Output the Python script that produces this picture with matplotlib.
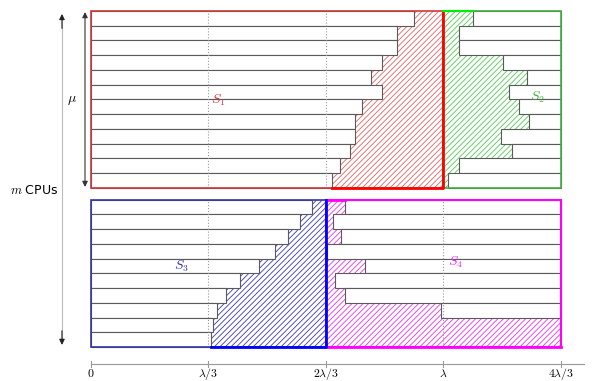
import numpy as np
import matplotlib.pyplot as plt
from matplotlib.patches import Polygon, Rectangle

plt.rcParams['mathtext.fontset'] = 'cm'
plt.rcParams['hatch.linewidth'] = 0.6

# x in units of lambda/3, one row = one CPU
top_red_ends = [2.75, 2.60, 2.60, 2.48, 2.38, 2.48, 2.31, 2.25, 2.25, 2.20, 2.12, 2.05]
top_green_starts = [3.25, 3.13, 3.13, 3.51, 3.71, 3.56, 3.64, 3.73, 3.49, 3.58, 3.13, 3.04]
bottom_blue_ends = [1.88, 1.78, 1.68, 1.57, 1.43, 1.27, 1.15, 1.07, 1.04, 1.02]
bottom_magenta_starts = [2.16, 2.06, 2.13, 2.01, 2.33, 2.08, 2.16, 2.98, 4.0, 4.0]
tick_pos = [0, 1, 2, 3, 4]
tick_labels = ['$0$', r'$\lambda/3$', r'$2\lambda/3$', r'$\lambda$', r'$4\lambda/3$']

top_y0 = 10.78
bot_y0 = 0.0

fig = plt.figure(figsize=(5.92, 3.81), dpi=100)
ax = fig.add_axes([0, 0, 1, 1])
ax.set_xlim(-91 / 117.5, 501 / 117.5)
ax.set_ylim(-34 / 14.75, 347 / 14.75)
ax.axis('off')

bar_ec = '#5a5a5a'


def stair_left(ends, y0, xr):
    # hatch region right of the bars, up to xr
    n = len(ends)
    top = y0 + n
    pts = [(xr, top), (xr, y0)]
    for i in range(n - 1, -1, -1):
        yb = top - (i + 1)
        pts.append((ends[i], yb))
        pts.append((ends[i], yb + 1))
    return pts


def stair_right(starts, y0, xl):
    # hatch region left of the bars, from xl
    n = len(starts)
    top = y0 + n
    pts = [(xl, top), (xl, y0)]
    for i in range(n - 1, -1, -1):
        yb = top - (i + 1)
        pts.append((starts[i], yb))
        pts.append((starts[i], yb + 1))
    return pts


def hatch_poly(pts, color):
    ax.add_patch(Polygon(pts, closed=True, facecolor='none', edgecolor=color,
                         linewidth=0, hatch='//////', zorder=1))


hatch_poly(stair_left(top_red_ends, top_y0, 3), '#e86060')
hatch_poly(stair_right(top_green_starts, top_y0, 3), '#50cc50')
hatch_poly(stair_left(bottom_blue_ends, bot_y0, 2), '#3838c0')
hatch_poly(stair_right(bottom_magenta_starts, bot_y0, 2), '#ee30ee')

# white bars
n = len(top_red_ends)
for i in range(n):
    yb = top_y0 + n - (i + 1)
    ax.add_patch(Rectangle((0, yb), top_red_ends[i], 1, facecolor='white',
                           edgecolor=bar_ec, linewidth=0.8, zorder=2))
    ax.add_patch(Rectangle((top_green_starts[i], yb), 4 - top_green_starts[i], 1,
                           facecolor='white', edgecolor=bar_ec, linewidth=0.8, zorder=2))
n = len(bottom_blue_ends)
for i in range(n):
    yb = bot_y0 + n - (i + 1)
    ax.add_patch(Rectangle((0, yb), bottom_blue_ends[i], 1, facecolor='white',
                           edgecolor=bar_ec, linewidth=0.8, zorder=2))
    if bottom_magenta_starts[i] < 4:
        ax.add_patch(Rectangle((bottom_magenta_starts[i], yb), 4 - bottom_magenta_starts[i], 1,
                               facecolor='white', edgecolor=bar_ec, linewidth=0.8, zorder=2))

# dotted guides
for x in [1, 2, 3]:
    ax.plot([x, x], [top_y0, top_y0 + 12], ls=':', color='#999999', lw=0.8, zorder=3)
    ax.plot([x, x], [bot_y0, bot_y0 + 10], ls=':', color='#999999', lw=0.8, zorder=3)

# boxes
ax.add_patch(Rectangle((0, top_y0), 3, 12, fill=False, edgecolor='#d03838', lw=1.2, zorder=4))
ax.add_patch(Rectangle((3, top_y0), 1, 12, fill=False, edgecolor='#40b040', lw=1.2, zorder=4))
ax.add_patch(Rectangle((0, bot_y0), 2, 10, fill=False, edgecolor='#3535a5', lw=1.2, zorder=4))
ax.add_patch(Rectangle((2, bot_y0), 2, 10, fill=False, edgecolor='#ff00ff', lw=1.5, zorder=4))

# thick edges of the hatched parts
ax.plot([top_red_ends[-1], 3, 3], [top_y0, top_y0, top_y0 + 12], color='#ff0000', lw=2, zorder=5)
ax.plot([3, top_green_starts[0]], [top_y0 + 12, top_y0 + 12], color='#00ee00', lw=1.5, zorder=5)
ax.plot([2, 4], [bot_y0, bot_y0], color='#ff00ff', lw=2, zorder=5)
ax.plot([bottom_blue_ends[-1], 2, 2], [bot_y0, bot_y0, bot_y0 + 10], color='#0000ff', lw=2, zorder=6)
ax.plot([2, bottom_magenta_starts[0]], [bot_y0 + 10, bot_y0 + 10], color='#ff00ff', lw=2, zorder=5)

# region labels
ax.text(1.08, 16.75, '$S_1$', color='#d03838', fontsize=10, ha='center', va='center')
ax.text(3.80, 16.95, '$S_2$', color='#40b040', fontsize=10, ha='center', va='center')
ax.text(0.77, 5.5, '$S_3$', color='#3535b5', fontsize=10, ha='center', va='center')
ax.text(3.10, 5.76, '$S_4$', color='#ee22ee', fontsize=10, ha='center', va='center')

# mu arrow
ax.annotate('', xy=(-0.051, 22.71), xytext=(-0.051, 10.85),
            arrowprops=dict(arrowstyle='<|-|>', color='#333333', lw=0.8,
                            mutation_scale=8, shrinkA=0, shrinkB=0))
ax.text(-0.16, 16.75, r'$\mu$', fontsize=10, ha='center', va='center')

# m CPUs arrow
ax.plot([-0.247, -0.247], [0.3, 22.4], color='#bbbbbb', lw=0.8)
ax.annotate('', xy=(-0.247, 22.58), xytext=(-0.247, 21.6),
            arrowprops=dict(arrowstyle='-|>', color='#222222', lw=0.8,
                            mutation_scale=8, shrinkA=0, shrinkB=0))
ax.annotate('', xy=(-0.247, 0.14), xytext=(-0.247, 1.1),
            arrowprops=dict(arrowstyle='-|>', color='#222222', lw=0.8,
                            mutation_scale=8, shrinkA=0, shrinkB=0))
ax.text(-0.281, 10.58, '$m$ CPUs', fontsize=9, ha='right', va='center')

# time axis
ax_y = -1.15
ax.plot([0, 4.2], [ax_y, ax_y], color='#999999', lw=0.8)
ax.annotate('', xy=(4.27, ax_y), xytext=(4.15, ax_y),
            arrowprops=dict(arrowstyle='-|>', color='#222222', lw=0.8,
                            mutation_scale=8, shrinkA=0, shrinkB=0))
for x, lab in zip(tick_pos, tick_labels):
    ax.plot([x, x], [ax_y - 0.2, ax_y + 0.2], color='#999999', lw=0.8)
    ax.text(x, -1.82, lab, fontsize=8.5, ha='center', va='center')

fig.savefig('out.png', dpi=100)
